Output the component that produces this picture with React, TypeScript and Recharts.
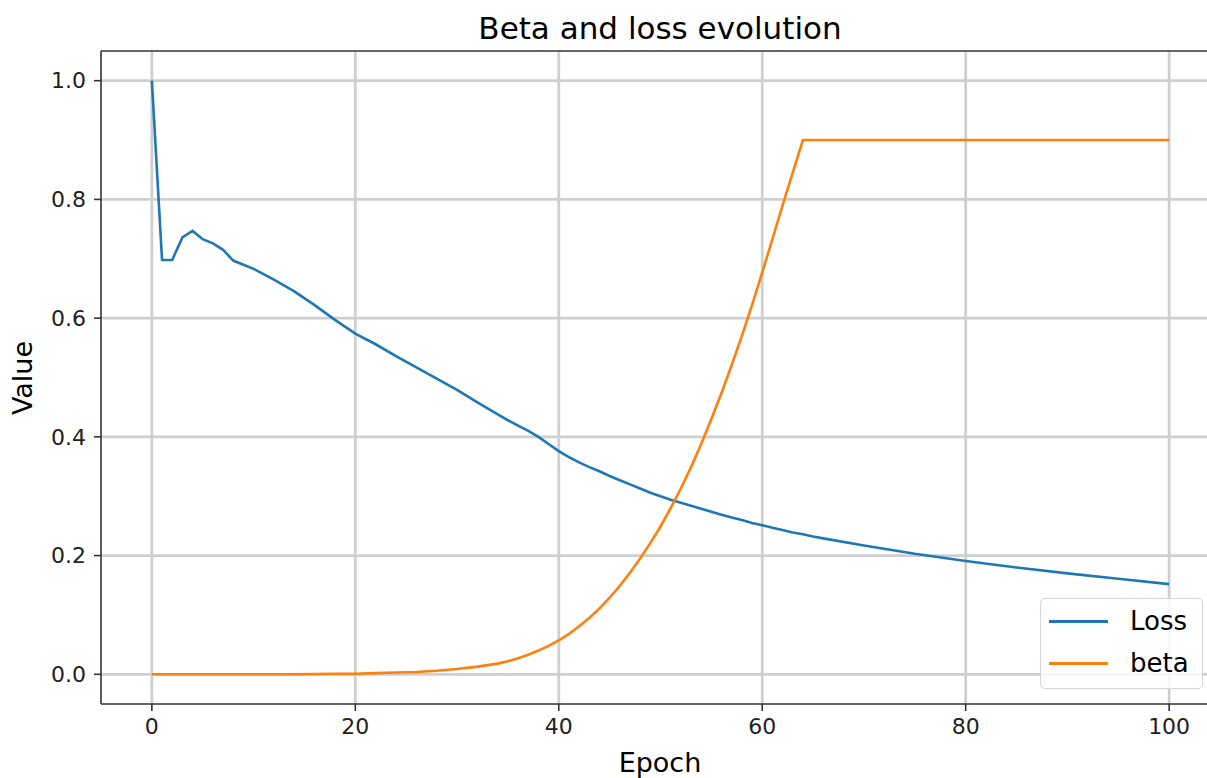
import React from "react";
import {
  LineChart,
  Line,
  XAxis,
  YAxis,
  CartesianGrid,
  ReferenceLine,
} from "recharts";

const epochs = [
  0, 1, 2, 3, 4, 5, 6, 7, 8, 9, 10, 12, 14, 16, 18, 20, 22, 24, 26, 28, 30, 32,
  34, 35, 36, 37, 38, 39, 40, 41, 42, 43, 44, 45, 46, 47, 48, 49, 50, 51, 52,
  53, 54, 55, 56, 57, 58, 59, 60, 61, 62, 63, 64, 65, 66, 70, 75, 80, 85, 90,
  95, 100,
];

const lossValues = [
  1.0, 0.698, 0.698, 0.736, 0.747, 0.733, 0.726, 0.715, 0.697, 0.69, 0.683,
  0.665, 0.645, 0.622, 0.597, 0.574, 0.556, 0.536, 0.517, 0.498, 0.479, 0.458,
  0.438, 0.428, 0.419, 0.41, 0.4, 0.388, 0.376, 0.366, 0.357, 0.349, 0.342,
  0.334, 0.327, 0.32, 0.313, 0.306, 0.3, 0.294, 0.289, 0.284, 0.279, 0.274,
  0.269, 0.264, 0.26, 0.255, 0.251, 0.247, 0.243, 0.239, 0.236, 0.232, 0.229,
  0.217, 0.203, 0.191, 0.18, 0.17, 0.161, 0.152,
];

const betaValues = [
  0, 0, 0, 0, 0, 0, 0, 0, 0, 0, 0, 0, 0, 0.0005, 0.001, 0.001, 0.002, 0.003,
  0.004, 0.006, 0.009, 0.013, 0.018, 0.022, 0.027, 0.033, 0.04, 0.048, 0.057,
  0.068, 0.081, 0.095, 0.111, 0.129, 0.149, 0.171, 0.195, 0.221, 0.249, 0.28,
  0.313, 0.349, 0.388, 0.43, 0.474, 0.521, 0.57, 0.622, 0.677, 0.733, 0.79,
  0.845, 0.9, 0.9, 0.9, 0.9, 0.9, 0.9, 0.9, 0.9, 0.9, 0.9,
];

const xTicks = [0, 20, 40, 60, 80, 100];
const yTicks = [0, 0.2, 0.4, 0.6, 0.8, 1.0];

const seriesNames = ["Loss", "beta"];
const COLORS = ["#1f77b4", "#ff7f0e"];

const data = epochs.map((epoch, i) => ({
  epoch,
  loss: lossValues[i],
  beta: betaValues[i],
}));

const FONT = "'DejaVu Sans', sans-serif";

// legend drawn as an overlay so it does not eat into the plot area
const LegendBox = () => (
  <div
    style={{
      position: "absolute",
      left: 1040,
      top: 598,
      width: 163,
      height: 91,
      border: "1px solid #d6d6d6",
      borderRadius: 5,
      background: "rgba(255,255,255,0.8)",
      fontFamily: FONT,
      fontSize: 26,
      color: "#000",
      boxSizing: "border-box",
      padding: "1px 0 0 8px",
    }}
  >
    {seriesNames.map((name, i) => (
      <div
        key={name}
        style={{ display: "flex", alignItems: "center", height: 42 }}
      >
        <div
          style={{
            width: 59,
            height: 3,
            background: COLORS[i],
            marginRight: 22,
          }}
        />
        <span>{name}</span>
      </div>
    ))}
  </div>
);

const App: React.FC = () => {
  return (
    <div
      style={{
        position: "absolute",
        left: 0,
        top: 0,
        width: 1207,
        height: 778,
        overflow: "hidden",
        background: "#fff",
      }}
    >
      <LineChart
        width={1230}
        height={778}
        data={data}
        margin={{ top: 51, right: 10, bottom: 0, left: 0 }}
      >
        <CartesianGrid
          stroke="#cfcfcf"
          strokeWidth={2.8}
          horizontalValues={yTicks}
          verticalValues={xTicks}
        />
        <XAxis
          dataKey="epoch"
          type="number"
          domain={[-5, 105]}
          ticks={xTicks}
          height={74}
          tickSize={7}
          tickMargin={7}
          axisLine={{ stroke: "#333", strokeWidth: 1.6 }}
          tickLine={{ stroke: "#333", strokeWidth: 1.6 }}
          tick={{ fill: "#222", fontSize: 22, fontFamily: FONT }}
          allowDataOverflow
        />
        <YAxis
          type="number"
          domain={[-0.05, 1.05]}
          ticks={yTicks}
          width={101}
          tickSize={7}
          tickMargin={8}
          axisLine={{ stroke: "#333", strokeWidth: 1.6 }}
          tickLine={{ stroke: "#333", strokeWidth: 1.6 }}
          tick={{ fill: "#222", fontSize: 22, fontFamily: FONT }}
          tickFormatter={(v: number) => v.toFixed(1)}
          allowDataOverflow
        />
        {/* top spine only; the right one falls outside the picture */}
        <ReferenceLine y={1.05} stroke="#333" strokeWidth={1.6} />
        <Line
          type="linear"
          dataKey="loss"
          name={seriesNames[0]}
          stroke={COLORS[0]}
          strokeWidth={2.6}
          dot={false}
          isAnimationActive={false}
        />
        <Line
          type="linear"
          dataKey="beta"
          name={seriesNames[1]}
          stroke={COLORS[1]}
          strokeWidth={2.6}
          dot={false}
          isAnimationActive={false}
        />
      </LineChart>
      <LegendBox />
      <svg
        width={1207}
        height={778}
        style={{ position: "absolute", left: 0, top: 0, pointerEvents: "none" }}
      >
        <text
          x={660}
          y={39}
          textAnchor="middle"
          fontFamily={FONT}
          fontSize={31}
          fill="#000"
        >
          Beta and loss evolution
        </text>
        <text
          x={660}
          y={772}
          textAnchor="middle"
          fontFamily={FONT}
          fontSize={27}
          fill="#000"
        >
          Epoch
        </text>
        <text
          x={32}
          y={378}
          textAnchor="middle"
          fontFamily={FONT}
          fontSize={27}
          fill="#000"
          transform="rotate(-90 32 378)"
        >
          Value
        </text>
      </svg>
    </div>
  );
};

export default App;
